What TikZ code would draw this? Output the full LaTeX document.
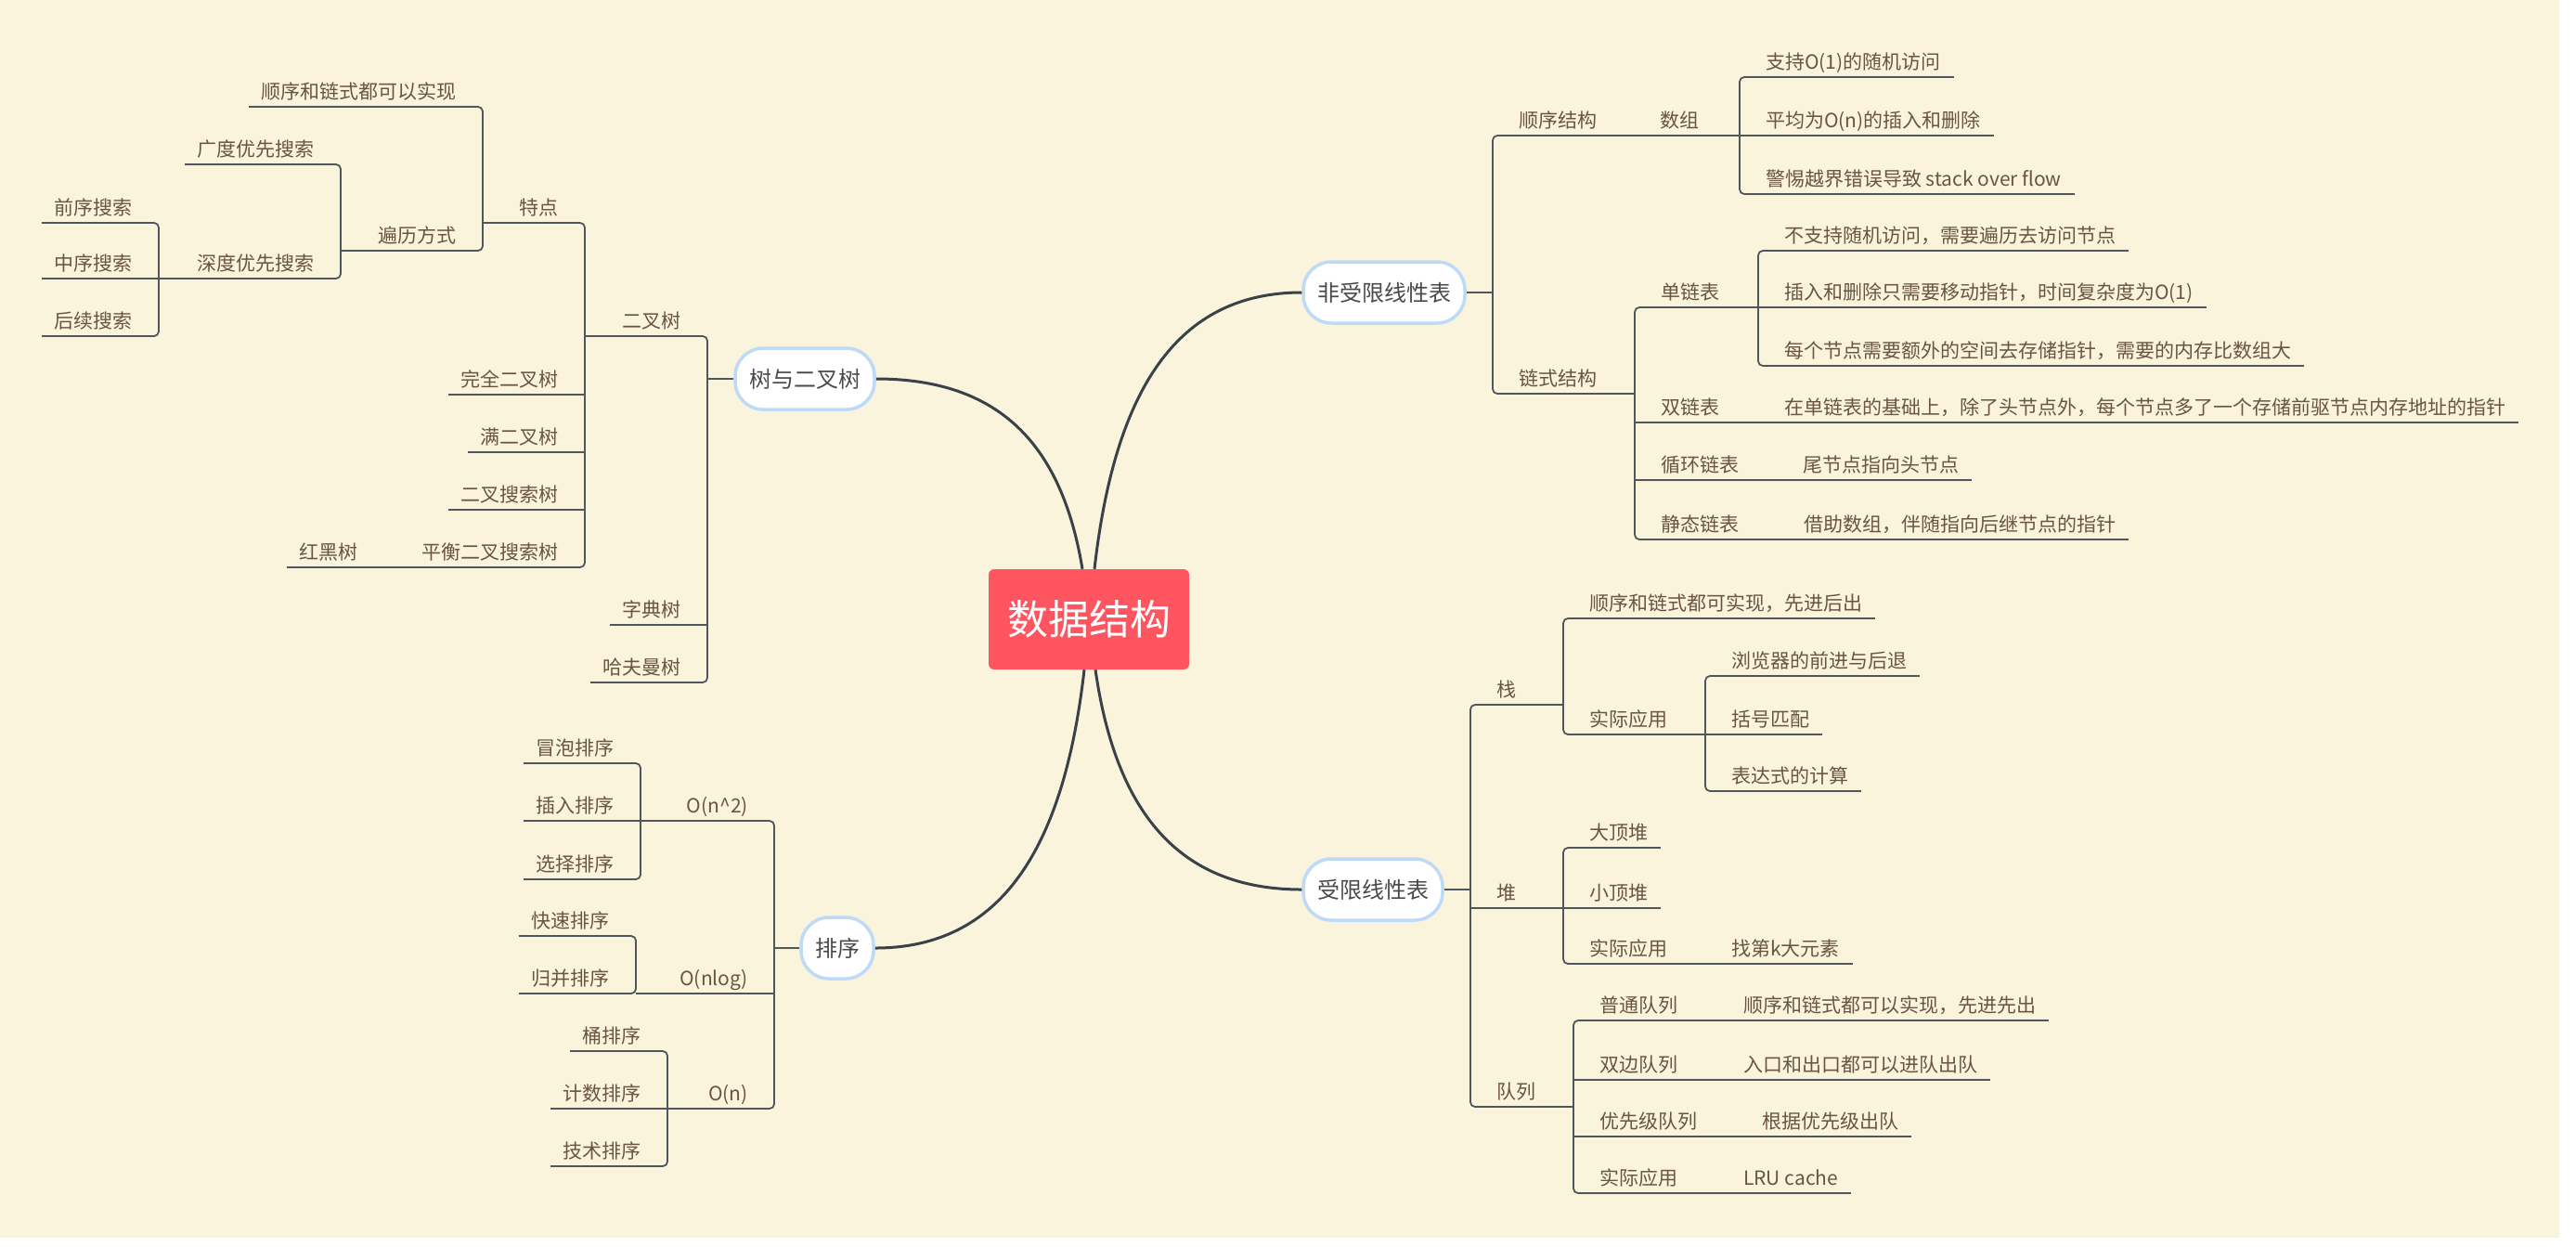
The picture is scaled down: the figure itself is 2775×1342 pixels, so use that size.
\documentclass[tikz,border=0pt]{standalone}
\usepackage{fontspec}
\setmainfont{Noto Sans CJK SC}
\usetikzlibrary{calc}
\definecolor{paper}{HTML}{FAF4DD}
\definecolor{rootred}{HTML}{FF5561}
\definecolor{boxline}{HTML}{BDDAF8}
\definecolor{boxtext}{HTML}{4A4A4A}
\definecolor{topictext}{HTML}{6A5442}
\definecolor{trunkcolor}{HTML}{3A4149}
\definecolor{twigcolor}{HTML}{50565C}

% brackets: parent point, top child, bottom child
\newcommand{\forkR}[3]{%
  \draw[twig] (#1) -- ($(#2.south west |- #1)+(-14,0)$);
  \draw[twig, rounded corners=5pt] (#2.south west) -| ($(#2.south west |- #1)+(-14,0)$) |- (#3.south west);}
\newcommand{\forkL}[3]{%
  \draw[twig] (#1) -- ($(#2.south east |- #1)+(14,0)$);
  \draw[twig, rounded corners=5pt] (#2.south east) -| ($(#2.south east |- #1)+(14,0)$) |- (#3.south east);}
\newcommand{\stubR}[1]{\draw[twig] ($(#1.south west)+(-14,0)$) -- (#1.south west);}
\newcommand{\stubL}[1]{\draw[twig] ($(#1.south east)+(14,0)$) -- (#1.south east);}
\newcommand{\linkR}[2]{\draw[twig] (#1.south east) -- (#2.south west);}
\newcommand{\linkL}[2]{\draw[twig] (#1.south west) -- (#2.south east);}

\tikzset{
  twig/.style={twigcolor, line width=1.8pt},
  trunk/.style={trunkcolor, line width=3pt},
  topic/.style={anchor=south west, inner xsep=14pt, inner ysep=4.5pt,
    text height=17pt, text depth=4pt, text=topictext,
    font=\fontsize{21}{25}\selectfont,
    append after command={(\tikzlastnode.south west) edge[twig] (\tikzlastnode.south east)}},
  ltopic/.style={topic, anchor=south east},
  mainbox/.style={fill=white, draw=boxline, line width=3.5pt, rounded corners=30pt,
    inner xsep=15pt, minimum height=66pt, text=boxtext,
    font=\fontsize{24}{28}\selectfont},
  rootbox/.style={fill=rootred, rounded corners=6pt, minimum width=216pt,
    minimum height=108pt, text=white, font=\fontsize{44}{50}\selectfont}
}

\begin{document}
\begin{tikzpicture}[x=1pt, y=-1pt]
  \useasboundingbox (0,0) rectangle (2775,1342);
  \fill[white] (0,0) rectangle (2775,1342);
  \fill[paper] (0,0) rectangle (2757,1333);

  % === CENTRE AND MAIN BRANCHES ===
  \node[rootbox] (root) at (1173,667) {数据结构};
  \node[mainbox] (lin) at (1491,315) {非受限线性表};
  \node[mainbox] (rlin) at (1479,958) {受限线性表};
  \node[mainbox] (tree) at (867,408) {树与二叉树};
  \node[mainbox] (sort) at (902,1021) {排序};

  \draw[trunk] ([xshift=6pt]root.north) .. controls +(22,-194) and +(-134,0) .. (lin.west);
  \draw[trunk] ([xshift=-7pt]root.north) .. controls +(-22,-133) and +(134,0) .. (tree.east);
  \draw[trunk] ([xshift=7pt]root.south) .. controls +(22,153) and +(-133,0) .. (rlin.west);
  \draw[trunk] ([xshift=-5pt]root.south) .. controls +(-22,194) and +(135,0) .. (sort.east);

  % === 非受限线性表 ===
  \node[topic] (seq) at (1622,146) {顺序结构};
  \node[topic] (arr) at (1774,146) {数组};
  \node[topic] (arrA) at (1888,83) {支持O(1)的随机访问};
  \node[topic] (arrB) at (1888,146) {平均为O(n)的插入和删除};
  \node[topic] (arrC) at (1888,209) {警惕越界错误导致 stack over flow};
  \node[topic] (chain) at (1622,424) {链式结构};
  \node[topic] (single) at (1775,331) {单链表};
  \node[topic] (singA) at (1908,270) {不支持随机访问，需要遍历去访问节点};
  \node[topic] (singB) at (1908,331) {插入和删除只需要移动指针，时间复杂度为O(1)};
  \node[topic] (singC) at (1908,394) {每个节点需要额外的空间去存储指针，需要的内存比数组大};
  \node[topic] (double) at (1775,455) {双链表};
  \node[topic] (doubA) at (1908,455) {在单链表的基础上，除了头节点外，每个节点多了一个存储前驱节点内存地址的指针};
  \node[topic] (circ) at (1775,517) {循环链表};
  \node[topic] (circA) at (1928,517) {尾节点指向头节点};
  \node[topic] (static) at (1775,581) {静态链表};
  \node[topic] (statA) at (1929,581) {借助数组，伴随指向后继节点的指针};

  \forkR{lin.east}{seq}{chain}
  \linkR{seq}{arr}
  \forkR{arr.south east}{arrA}{arrC} \stubR{arrB}
  \forkR{chain.south east}{single}{static} \stubR{double} \stubR{circ}
  \forkR{single.south east}{singA}{singC} \stubR{singB}
  \linkR{double}{doubA}
  \linkR{circ}{circA}
  \linkR{static}{statA}

  % === 受限线性表 ===
  \node[topic] (stack) at (1598,759) {栈};
  \node[topic] (heap) at (1598,978) {堆};
  \node[topic] (queue) at (1598,1192) {队列};
  \node[topic] (stkA) at (1698,666) {顺序和链式都可实现，先进后出};
  \node[topic] (stkB) at (1698,791) {实际应用};
  \node[topic] (useA) at (1851,728) {浏览器的前进与后退};
  \node[topic] (useB) at (1851,791) {括号匹配};
  \node[topic] (useC) at (1851,852) {表达式的计算};
  \node[topic] (heapA) at (1698,913) {大顶堆};
  \node[topic] (heapB) at (1698,978) {小顶堆};
  \node[topic] (heapC) at (1698,1038) {实际应用};
  \node[topic] (kth) at (1851,1038) {找第k大元素};
  \node[topic] (queA) at (1709,1099) {普通队列};
  \node[topic] (queB) at (1709,1163) {双边队列};
  \node[topic] (queC) at (1709,1224) {优先级队列};
  \node[topic] (queD) at (1709,1285) {实际应用};
  \node[topic] (queA1) at (1864,1099) {顺序和链式都可以实现，先进先出};
  \node[topic] (queB1) at (1864,1163) {入口和出口都可以进队出队};
  \node[topic] (queC1) at (1884,1224) {根据优先级出队};
  \node[topic] (queD1) at (1864,1285) {LRU cache};

  \forkR{rlin.east}{stack}{queue} \stubR{heap}
  \forkR{stack.south east}{stkA}{stkB}
  \forkR{stkB.south east}{useA}{useC} \stubR{useB}
  \forkR{heap.south east}{heapA}{heapC} \stubR{heapB}
  \linkR{heapC}{kth}
  \forkR{queue.south east}{queA}{queD} \stubR{queB} \stubR{queC}
  \linkR{queA}{queA1}
  \linkR{queB}{queB1}
  \linkR{queC}{queC1}
  \linkR{queD}{queD1}

  % === 树与二叉树 ===
  \node[ltopic] (bt) at (748,362) {二叉树};
  \node[ltopic] (trie) at (748,673) {字典树};
  \node[ltopic] (huff) at (748,735) {哈夫曼树};
  \node[ltopic] (feat) at (616,240) {特点};
  \node[ltopic] (full) at (616,425) {完全二叉树};
  \node[ltopic] (perfect) at (616,487) {满二叉树};
  \node[ltopic] (bst) at (616,549) {二叉搜索树};
  \node[ltopic] (avl) at (616,611) {平衡二叉搜索树};
  \node[ltopic] (rbt) at (400,611) {红黑树};
  \node[ltopic] (impl) at (506,115) {顺序和链式都可以实现};
  \node[ltopic] (trav) at (506,270) {遍历方式};
  \node[ltopic] (bfs) at (353,177) {广度优先搜索};
  \node[ltopic] (dfs) at (353,300) {深度优先搜索};
  \node[ltopic] (pre) at (157,240) {前序搜索};
  \node[ltopic] (mid) at (157,300) {中序搜索};
  \node[ltopic] (post) at (157,362) {后续搜索};

  \forkL{tree.west}{bt}{huff} \stubL{trie}
  \forkL{bt.south west}{feat}{avl} \stubL{full} \stubL{perfect} \stubL{bst}
  \linkL{avl}{rbt}
  \forkL{feat.south west}{impl}{trav}
  \forkL{trav.south west}{bfs}{dfs}
  \forkL{dfs.south west}{pre}{post} \stubL{mid}

  % === 排序 ===
  \node[ltopic] (on2) at (820,884) {O(n\textasciicircum 2)};
  \node[ltopic] (onlog) at (820,1070) {O(nlog)};
  \node[ltopic] (on) at (820,1194) {O(n)};
  \node[ltopic] (bub) at (676,822) {冒泡排序};
  \node[ltopic] (ins) at (676,884) {插入排序};
  \node[ltopic] (sel) at (676,947) {选择排序};
  \node[ltopic] (quick) at (671,1008) {快速排序};
  \node[ltopic] (merge) at (671,1070) {归并排序};
  \node[ltopic] (bucket) at (705,1132) {桶排序};
  \node[ltopic] (count) at (705,1194) {计数排序};
  \node[ltopic] (radix) at (705,1256) {技术排序};

  \forkL{sort.west}{on2}{on} \stubL{onlog}
  \forkL{on2.south west}{bub}{sel} \stubL{ins}
  \draw[twig] (onlog.south west) -- ($(merge.south east)+(14,0)$);
  \draw[twig, rounded corners=5pt] (quick.south east) -| ($(merge.south east)+(14,0)$) -- (merge.south east);
  \forkL{on.south west}{bucket}{radix} \stubL{count}
\end{tikzpicture}
\end{document}
